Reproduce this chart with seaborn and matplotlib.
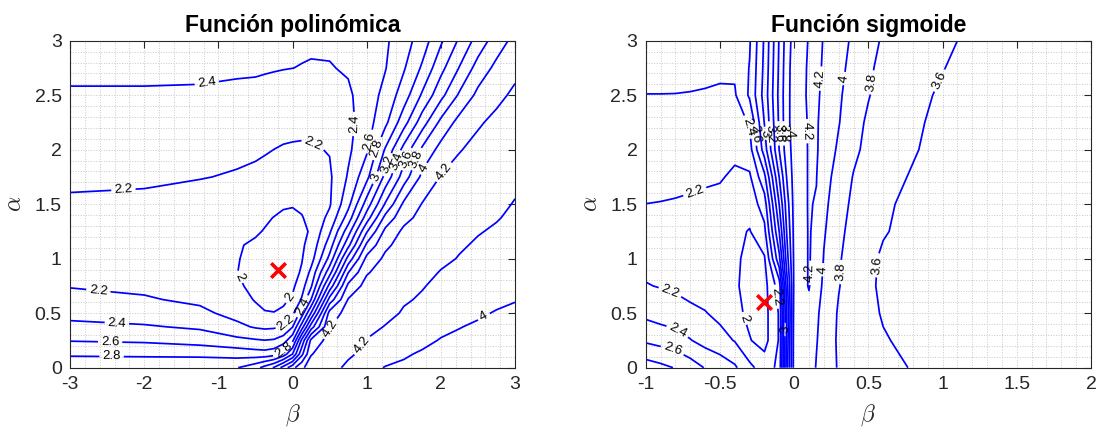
import numpy as np
import matplotlib
matplotlib.use("Agg")
import matplotlib.pyplot as plt
import seaborn as sns
from matplotlib.ticker import MultipleLocator, FuncFormatter

# ---------------- data: polynomial model cost surface ----------------
beta_poly = [-3, -2, -1.25, -0.75, -0.5, -0.375, -0.25, -0.125, 0, 0.125, 0.25, 0.5, 0.75, 1, 1.25, 1.5, 1.75, 2, 2.25, 2.5, 2.75, 3]
alpha_poly = [0, 0.125, 0.25, 0.375, 0.5, 0.625, 0.75, 0.875, 1, 1.125, 1.25, 1.375, 1.5, 1.75, 2, 2.25, 2.5, 2.75, 3]
cost_poly = [
    [2.96, 2.96, 2.97, 2.99, 3.13, 3.27, 3.42, 3.68, 3.93, 4.17, 4.28, 4.27, 4.16, 4.07, 3.99, 3.97, 3.95, 3.93, 3.92, 3.90, 3.89, 3.88],
    [2.77, 2.76, 2.75, 2.72, 2.69, 2.68, 2.72, 2.88, 3.20, 3.75, 4.19, 4.30, 4.23, 4.15, 4.09, 4.02, 3.98, 3.97, 3.95, 3.93, 3.92, 3.90],
    [2.59, 2.57, 2.52, 2.45, 2.42, 2.405, 2.42, 2.50, 2.75, 3.45, 4.05, 4.28, 4.28, 4.19, 4.14, 4.09, 4.04, 3.99, 3.97, 3.95, 3.94, 3.93],
    [2.45, 2.42, 2.37, 2.25, 2.18, 2.16, 2.17, 2.22, 2.39, 2.90, 3.50, 4.19, 4.30, 4.27, 4.19, 4.14, 4.09, 4.04, 4.005, 3.98, 3.965, 3.955],
    [2.34, 2.30, 2.25, 2.13, 2.04, 2.01, 2.005, 2.04, 2.15, 2.50, 3.01, 4.08, 4.28, 4.30, 4.26, 4.18, 4.14, 4.10, 4.06, 4.02, 3.99, 3.98],
    [2.26, 2.22, 2.16, 2.06, 1.99, 1.96, 1.95, 1.96, 2.03, 2.22, 2.60, 3.68, 4.21, 4.30, 4.28, 4.22, 4.18, 4.14, 4.10, 4.06, 4.03, 4.005],
    [2.19, 2.16, 2.08, 2.03, 1.95, 1.93, 1.93, 1.92, 1.96, 2.12, 2.37, 3.27, 4.05, 4.27, 4.30, 4.27, 4.21, 4.16, 4.13, 4.09, 4.06, 4.03],
    [2.16, 2.13, 2.05, 2.003, 1.94, 1.92, 1.905, 1.905, 1.94, 2.02, 2.25, 2.92, 3.79, 4.18, 4.29, 4.30, 4.26, 4.19, 4.16, 4.12, 4.09, 4.055],
    [2.13, 2.11, 2.03, 2.01, 1.95, 1.92, 1.91, 1.90, 1.92, 1.99, 2.12, 2.66, 3.47, 4.055, 4.24, 4.30, 4.29, 4.24, 4.19, 4.16, 4.12, 4.08],
    [2.12, 2.105, 2.03, 2.015, 1.975, 1.95, 1.925, 1.915, 1.925, 1.975, 2.06, 2.50, 3.14, 3.84, 4.16, 4.28, 4.30, 4.27, 4.22, 4.18, 4.14, 4.11],
    [2.12, 2.11, 2.04, 2.04, 2.02, 1.99, 1.96, 1.94, 1.95, 1.96, 2.02, 2.37, 2.91, 3.58, 4.05, 4.24, 4.29, 4.30, 4.27, 4.21, 4.18, 4.14],
    [2.14, 2.13, 2.07, 2.07, 2.055, 2.025, 1.995, 1.97, 1.97, 1.99, 2.05, 2.25, 2.69, 3.30, 3.86, 4.14, 4.26, 4.30, 4.29, 4.25, 4.21, 4.17],
    [2.17, 2.16, 2.10, 2.10, 2.09, 2.07, 2.05, 2.02, 2.01, 2.03, 2.09, 2.18, 2.54, 3.09, 3.62, 4.04, 4.21, 4.28, 4.30, 4.28, 4.24, 4.19],
    [2.24, 2.23, 2.21, 2.18, 2.16, 2.145, 2.13, 2.11, 2.10, 2.10, 2.12, 2.17, 2.42, 2.74, 3.26, 3.70, 4.05, 4.21, 4.27, 4.30, 4.28, 4.24],
    [2.29, 2.28, 2.27, 2.25, 2.23, 2.215, 2.199, 2.185, 2.18, 2.175, 2.18, 2.21, 2.36, 2.57, 3.02, 3.47, 3.84, 4.07, 4.19, 4.25, 4.28, 4.27],
    [2.33, 2.33, 2.32, 2.31, 2.30, 2.285, 2.27, 2.26, 2.25, 2.25, 2.26, 2.28, 2.34, 2.51, 2.75, 3.12, 3.51, 3.85, 4.07, 4.18, 4.24, 4.26],
    [2.385, 2.385, 2.38, 2.37, 2.36, 2.35, 2.34, 2.33, 2.32, 2.32, 2.33, 2.34, 2.37, 2.49, 2.66, 2.90, 3.23, 3.54, 3.83, 4.05, 4.16, 4.23],
    [2.43, 2.43, 2.43, 2.42, 2.42, 2.415, 2.41, 2.405, 2.401, 2.395, 2.39, 2.39, 2.42, 2.49, 2.59, 2.78, 3.03, 3.34, 3.61, 3.88, 4.05, 4.16],
    [2.47, 2.47, 2.46, 2.45, 2.44, 2.435, 2.43, 2.43, 2.43, 2.425, 2.42, 2.43, 2.45, 2.50, 2.57, 2.71, 2.90, 3.17, 3.43, 3.68, 3.90, 4.06],
]
min_poly_beta = [-0.2]
min_poly_alpha = [0.9]

# ---------------- data: sigmoid model cost surface ----------------
beta_sig = [-1, -0.9, -0.8, -0.7, -0.6, -0.5, -0.4, -0.3, -0.2, -0.1, -0.05, 0, 0.05, 0.1, 0.15, 0.2, 0.3, 0.4, 0.5, 0.6, 0.8, 1.0, 1.2, 1.5, 2.0]
alpha_sig = [0, 0.25, 0.5, 0.75, 1.0, 1.25, 1.5, 1.75, 2.0, 2.25, 2.5, 2.75, 3.0]
cost_sig = [
    [2.90, 2.85, 2.79, 2.70, 2.59, 2.52, 2.43, 2.25, 2.10, 2.25, 3.30, 4.10, 4.15, 4.08, 3.99, 3.93, 3.78, 3.72, 3.68, 3.65, 3.59, 3.56, 3.53, 3.50, 3.48],
    [2.57, 2.53, 2.49, 2.41, 2.33, 2.27, 2.19, 2.01, 1.93, 2.22, 3.25, 4.10, 4.15, 4.10, 4.01, 3.93, 3.77, 3.70, 3.65, 3.61, 3.57, 3.54, 3.52, 3.49, 3.47],
    [2.35, 2.31, 2.28, 2.24, 2.21, 2.15, 2.05, 1.96, 1.93, 2.22, 3.20, 4.08, 4.17, 4.15, 4.03, 3.94, 3.78, 3.69, 3.63, 3.59, 3.56, 3.54, 3.52, 3.49, 3.47],
    [2.21, 2.19, 2.17, 2.14, 2.11, 2.07, 2.02, 1.95, 1.93, 2.30, 3.30, 4.05, 4.15, 4.21, 4.10, 3.96, 3.81, 3.70, 3.62, 3.58, 3.55, 3.53, 3.51, 3.49, 3.47],
    [2.14, 2.13, 2.12, 2.10, 2.08, 2.05, 2.02, 1.97, 1.98, 2.75, 3.50, 4.05, 4.15, 4.21, 4.15, 3.99, 3.82, 3.71, 3.63, 3.58, 3.55, 3.53, 3.51, 3.49, 3.47],
    [2.15, 2.15, 2.14, 2.13, 2.11, 2.08, 2.04, 1.99, 2.15, 3.01, 3.61, 4.06, 4.15, 4.21, 4.17, 4.02, 3.85, 3.73, 3.65, 3.61, 3.56, 3.53, 3.51, 3.49, 3.47],
    [2.199, 2.195, 2.19, 2.18, 2.17, 2.15, 2.10, 2.08, 2.30, 3.21, 3.70, 4.07, 4.16, 4.21, 4.19, 4.05, 3.88, 3.76, 3.67, 3.62, 3.57, 3.54, 3.51, 3.49, 3.47],
    [2.26, 2.245, 2.235, 2.23, 2.22, 2.215, 2.17, 2.17, 2.55, 3.41, 3.81, 4.08, 4.16, 4.21, 4.205, 4.08, 3.92, 3.79, 3.70, 3.64, 3.59, 3.55, 3.52, 3.49, 3.47],
    [2.31, 2.30, 2.30, 2.29, 2.27, 2.24, 2.24, 2.32, 2.90, 3.61, 3.90, 4.08, 4.16, 4.21, 4.22, 4.12, 3.97, 3.84, 3.75, 3.69, 3.61, 3.56, 3.52, 3.49, 3.46],
    [2.35, 2.35, 2.34, 2.34, 2.33, 2.31, 2.30, 2.42, 3.01, 3.64, 3.93, 4.10, 4.17, 4.21, 4.22, 4.14, 4.01, 3.87, 3.77, 3.71, 3.62, 3.57, 3.53, 3.49, 3.46],
    [2.398, 2.398, 2.398, 2.397, 2.39, 2.37, 2.38, 2.63, 3.08, 3.66, 3.93, 4.10, 4.17, 4.22, 4.23, 4.16, 4.03, 3.90, 3.81, 3.73, 3.64, 3.58, 3.54, 3.50, 3.47],
    [2.44, 2.44, 2.43, 2.42, 2.43, 2.44, 2.43, 2.61, 3.05, 3.64, 3.92, 4.10, 4.16, 4.22, 4.24, 4.18, 4.06, 3.93, 3.83, 3.75, 3.66, 3.605, 3.55, 3.50, 3.47],
    [2.47, 2.47, 2.46, 2.45, 2.44, 2.42, 2.43, 2.58, 3.03, 3.62, 3.90, 4.08, 4.15, 4.21, 4.25, 4.19, 4.09, 3.96, 3.86, 3.78, 3.70, 3.63, 3.57, 3.52, 3.48],
]
min_sig_beta = [-0.2]
min_sig_alpha = [0.6]

contour_levels = [2.0, 2.2, 2.4, 2.6, 2.8, 3.0, 3.2, 3.4, 3.6, 3.8, 4.0, 4.2]
titles = ["Función polinómica", "Función sigmoide"]

# label anchor spots (layout only)
label_spots_poly = [(-1.15, 2.58), (-2.28, 1.63), (0.26, 2.03), (0.91, 2.23), (1.07, 2.07),
                    (1.18, 2.0), (1.13, 1.74), (1.29, 1.86), (1.40, 1.89), (1.52, 1.92),
                    (1.65, 1.92), (1.76, 1.83), (2.03, 1.8), (-2.62, 0.69), (-2.37, 0.39),
                    (-2.46, 0.22), (-2.44, 0.086), (-0.72, 0.83), (-0.03, 0.64), (0.91, 0.22),
                    (2.57, 0.48), (-0.08, 0.41), (0.146, 0.56), (0.505, 0.36), (-0.12, 0.16)]
label_spots_sig = [(-0.66, 1.58), (-0.32, 2.2), (-0.25, 2.15), (-0.2, 2.15), (-0.15, 2.15),
                   (-0.1, 2.15), (-0.06, 2.15), (-0.02, 2.15), (0.085, 2.17), (0.208, 2.65),
                   (0.355, 2.65), (0.51, 2.62), (0.97, 2.64), (-0.84, 0.68), (-0.79, 0.33),
                   (-0.82, 0.16), (-0.34, 0.45), (-0.13, 0.65), (0.11, 0.87), (0.175, 0.9),
                   (0.28, 0.88), (0.56, 0.94), (-0.06, 0.35)]

# ---------------- figure ----------------
sns.set_theme(style="white")
plt.rcParams["font.family"] = ["Liberation Sans", "DejaVu Sans"]
plt.rcParams["mathtext.fontset"] = "cm"

fig = plt.figure(figsize=(11.01, 4.34), dpi=100)
ax1 = fig.add_axes([0.0636, 0.1528, 0.4042, 0.7534])
ax2 = fig.add_axes([0.5865, 0.1528, 0.4044, 0.7534])

panels = [
    (ax1, beta_poly, alpha_poly, cost_poly, min_poly_beta, min_poly_alpha, (-3, 3), 1, 0.2, label_spots_poly),
    (ax2, beta_sig, alpha_sig, cost_sig, min_sig_beta, min_sig_alpha, (-1, 2), 0.5, 0.1, label_spots_sig),
]

fmt = FuncFormatter(lambda v, p: f"{v:g}")
for (ax, bx, ay, cz, mb, ma, xlim, xmaj, xmin, spots), title in zip(panels, titles):
    B, A = np.meshgrid(np.array(bx, float), np.array(ay, float))
    Z = np.array(cz, float)
    cs = ax.contour(B, A, Z, levels=contour_levels, colors="#0000ff", linewidths=1.25)
    ax.clabel(cs, inline=True, fontsize=9.5, fmt="%g", inline_spacing=3,
              colors="black", manual=spots)
    sns.scatterplot(x=mb, y=ma, ax=ax, marker="x", color="#ff0000", s=110,
                    linewidth=2.6, zorder=5, legend=False)
    ax.set_xlim(*xlim)
    ax.set_ylim(0, 3)
    ax.xaxis.set_major_locator(MultipleLocator(xmaj))
    ax.xaxis.set_minor_locator(MultipleLocator(xmin))
    ax.yaxis.set_major_locator(MultipleLocator(0.5))
    ax.yaxis.set_minor_locator(MultipleLocator(0.1))
    ax.grid(True, which="both", linestyle=":", color="#c8c8c8", linewidth=0.7)
    ax.set_axisbelow(True)
    ax.tick_params(which="major", direction="in", length=5, width=0.8, top=True, right=True,
                   labelsize=14, colors="#262626", pad=6)
    ax.tick_params(which="minor", length=0, top=True, right=True)
    for sp in ax.spines.values():
        sp.set_color("#262626")
        sp.set_linewidth(0.8)
    ax.xaxis.set_major_formatter(fmt)
    ax.yaxis.set_major_formatter(fmt)
    ax.set_xlabel(r"$\beta$", fontsize=17, color="#262626", labelpad=7)
    ax.set_ylabel(r"$\alpha$", fontsize=17, color="#262626", labelpad=6)
    ax.set_title(title, fontsize=16.5, fontweight="bold", color="black", pad=6)

fig.savefig("out.png", dpi=100)
